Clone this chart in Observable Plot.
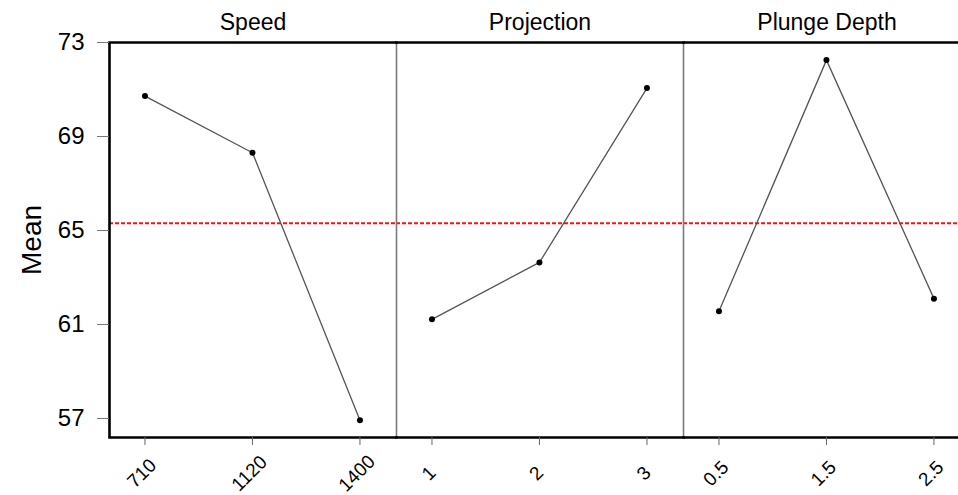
<!DOCTYPE html>
<html>
<head>
<meta charset="utf-8">
<script src="https://cdn.jsdelivr.net/npm/d3@7"></script>
<script src="https://cdn.jsdelivr.net/npm/@observablehq/plot@0.6"></script>
<style>
  html, body { margin: 0; padding: 0; background: #fff; overflow: hidden; }
  #chart { width: 975px; }
</style>
</head>
<body>
<div id="chart"></div>
<script>
// ---- data ----
const factors = ["Speed", "Projection", "Plunge Depth"];
const speedLevels = ["710", "1120", "1400"];
const speedMeans = [70.72, 68.31, 56.92];
const projectionLevels = ["1", "2", "3"];
const projectionMeans = [61.22, 63.64, 71.06];
const plungeLevels = ["0.5", "1.5", "2.5"];
const plungeMeans = [61.56, 72.25, 62.10];
const grandMean = 65.31;
const yTicks = [57, 61, 65, 69, 73];
const yLabel = "Mean";

// ---- build table ----
const levelSets = [speedLevels, projectionLevels, plungeLevels];
const meanSets = [speedMeans, projectionMeans, plungeMeans];
const rows = factors.flatMap((f, k) =>
  levelSets[k].map((lev, i) => ({factor: f, idx: i, level: lev, mean: meanSets[k][i]}))
);

const xDomain = [-0.33, 2.34];
const yDomain = [56.19, 73];

const chart = Plot.plot({
  width: 975,
  height: 495,
  marginLeft: 109,
  marginRight: 5,
  marginTop: 42,
  marginBottom: 58,
  style: {fontFamily: "'Liberation Sans', Arial, sans-serif", fontSize: "20px", background: "#fff", color: "#000"},
  fx: {domain: factors, padding: 0, axis: null},
  x: {domain: xDomain, axis: null},
  y: {domain: yDomain, axis: null},
  marks: [
    // mean reference line
    Plot.ruleY([grandMean], {stroke: "#ff1010", strokeWidth: 2, strokeDasharray: "4,2"}),
    // panel dividers
    Plot.ruleX(factors.slice(1), {fx: d => d, x: () => xDomain[0], stroke: "#7a7a7a", strokeWidth: 1.6}),
    Plot.ruleX(factors.slice(0, 1), {fx: d => d, x: () => xDomain[0], stroke: "#000", strokeWidth: 2.6}),
    Plot.frame({anchor: "top", stroke: "#000", strokeWidth: 2.6}),
    Plot.frame({anchor: "bottom", stroke: "#000", strokeWidth: 2.6}),
    // axes
    Plot.axisY({ticks: yTicks, tickSize: 12, tickPadding: 13, fontSize: 24, label: null, stroke: "#777"}),
    Plot.axisX({ticks: [0, 1, 2], tickSize: 8, tickFormat: () => "", stroke: "#666", label: null}),
    Plot.axisFx({anchor: "top", tickSize: 0, tickPadding: 13, fontSize: 23, label: null}),
    Plot.text([{f: "Speed", t: yLabel}], {fx: "f", text: "t", frameAnchor: "left", dx: -77, rotate: -90, fontSize: 28, textAnchor: "middle", lineAnchor: "middle"}),
    // rotated level labels
    Plot.text(rows, {fx: "factor", x: "idx", text: "level", frameAnchor: "bottom", dy: 36, dx: -3, rotate: -45, fontSize: 19, textAnchor: "middle", lineAnchor: "middle", fill: "#000"}),
    // data
    Plot.line(rows, {fx: "factor", x: "idx", y: "mean", stroke: "#555", strokeWidth: 1.3}),
    Plot.dot(rows, {fx: "factor", x: "idx", y: "mean", r: 3, fill: "#000", stroke: null})
  ]
});
document.getElementById("chart").appendChild(chart);
</script>
</body>
</html>
